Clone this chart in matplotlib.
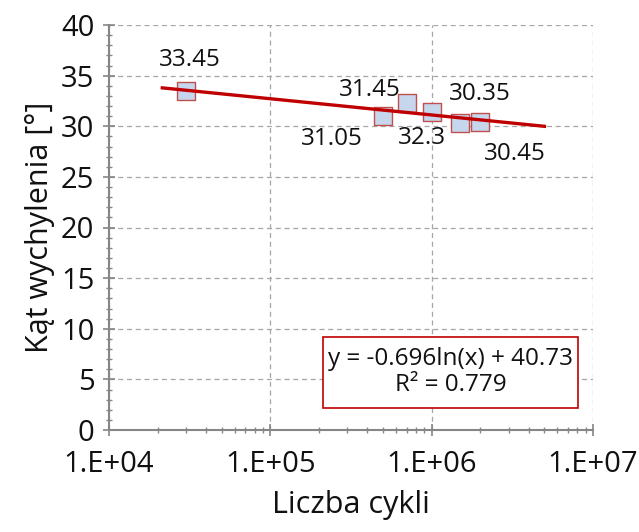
import numpy as np
import matplotlib.pyplot as plt
from matplotlib.patches import Rectangle
from matplotlib.ticker import LogLocator, MultipleLocator, FixedLocator

plt.rcParams['font.family'] = ['Open Sans', 'DejaVu Sans']

# dane
cykle = [3e4, 5e5, 7e5, 1e6, 1.5e6, 2e6]
kat = [33.45, 31.05, 32.3, 31.45, 30.35, 30.45]
etykiety = ['33.45', '31.05', '32.3', '31.45', '30.35', '30.45']
# przesuniecia etykiet (px)
przes = [(4, 31), (-51, -23), (15, -35), (-62, 22), (20, 29), (35, -32)]

# linia trendu: y = a*ln(x) + b
a = -0.696
b = 40.73
trend_od = 2.14e4
trend_do = 5e6

fig = plt.figure(figsize=(6.39, 5.32), dpi=100)
ax = fig.add_axes([109/639, 102/532, 484/639, 405/532])

xt = np.logspace(np.log10(trend_od), np.log10(trend_do), 200)
ax.plot(xt, a*np.log(xt) + b, color='#C00000', lw=2.4, zorder=3)
ax.scatter(cykle, kat, marker='s', s=165, facecolor='#C6D6EC',
           edgecolor='#C0504D', lw=1.0, zorder=2)

for x, y, t, (dx, dy) in zip(cykle, kat, etykiety, przes):
    ax.annotate(t, (x, y), xytext=(dx*0.72, dy*0.72), textcoords='offset points',
                ha='center', va='center', fontsize=17.5, color='#111111')

ax.set_xscale('log')
ax.set_xlim(1e4, 1e7)
ax.set_ylim(0, 40)
ax.xaxis.set_major_locator(FixedLocator([1e4, 1e5, 1e6, 1e7]))
ax.xaxis.set_minor_locator(LogLocator(base=10, subs=np.arange(2, 10)))
ax.set_xticklabels(['1.E+04', '1.E+05', '1.E+06', '1.E+07'])
ax.yaxis.set_major_locator(MultipleLocator(5))
ax.yaxis.set_minor_locator(MultipleLocator(1))

ax.grid(True, which='major', ls=(0, (4, 3)), color='#A6A6A6', lw=0.9)
for s in ['top', 'right']:
    ax.spines[s].set_visible(False)
for s in ['left', 'bottom']:
    ax.spines[s].set_color('#868686')
    ax.spines[s].set_linewidth(1.5)
ax.tick_params(which='major', direction='inout', length=9, width=1.2,
               color='#868686', labelsize=21, labelcolor='#111111', pad=6)
ax.tick_params(which='minor', direction='inout', length=5, width=1.0,
               color='#868686')
ax.tick_params(axis='x', which='major', pad=10)

ax.set_xlabel('Liczba cykli', fontsize=22, color='#111111', labelpad=8)
ax.set_ylabel('Kąt wychylenia [°]', fontsize=22, color='#111111', labelpad=4)

# ramka z rownaniem
fig.patches.append(Rectangle((323/639, 1 - 408/532), 255/639, 71/532,
                             transform=fig.transFigure, fc='white',
                             ec='#C00000', lw=1.2, zorder=5))
fig.text(450.5/639, 1 - 372/532, 'y = -0.696ln(x) + 40.73\nR² = 0.779',
         ha='center', va='center', fontsize=17.5, linespacing=1.15,
         color='#111111', zorder=6)

fig.savefig('out.png', dpi=100)
